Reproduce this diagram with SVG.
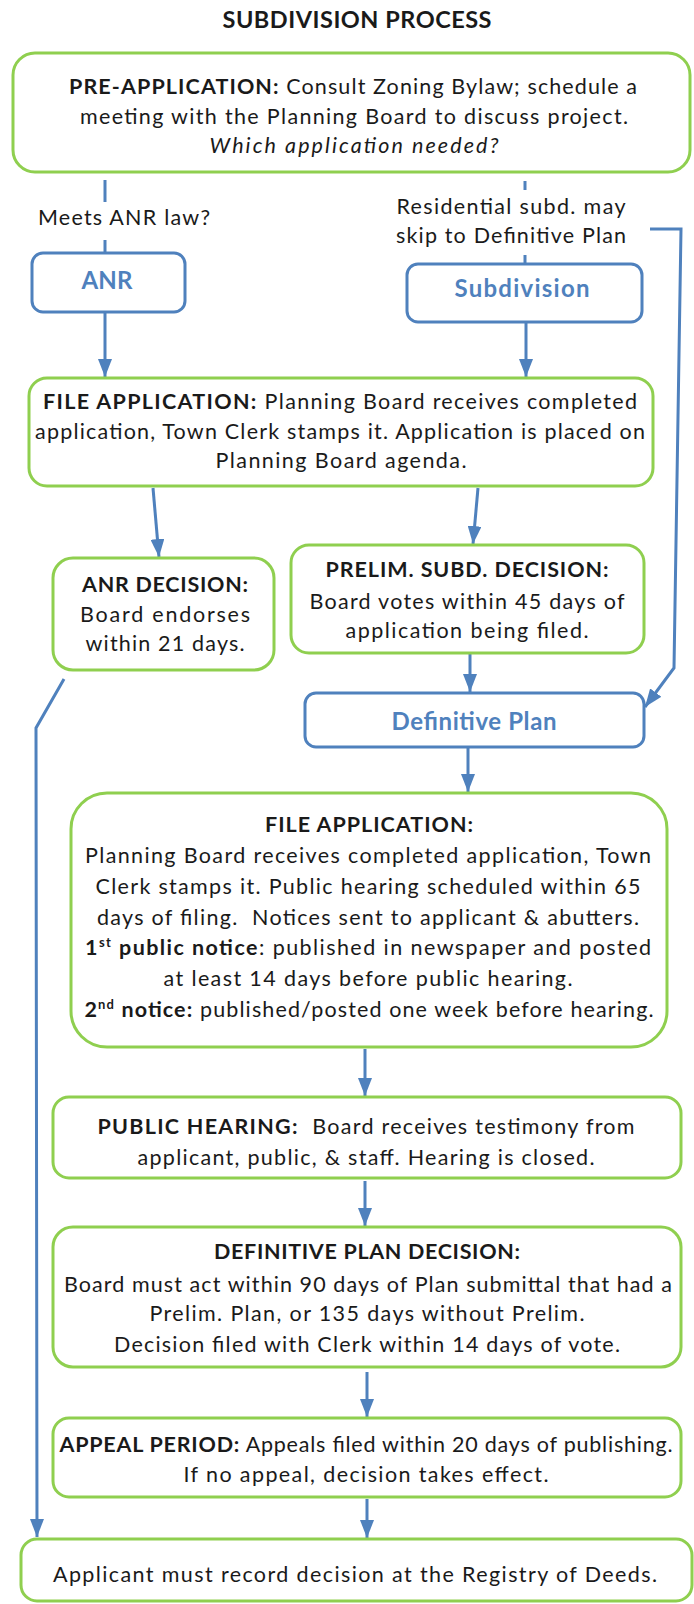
<svg xmlns="http://www.w3.org/2000/svg" width="694" height="1604" viewBox="0 0 694 1604">
<style>
.g{fill:#fff;stroke:#8fcf4f;stroke-width:3}
.bl{fill:#fff;stroke:#4f81bd;stroke-width:3}
.t{font-family:Lato,"Liberation Sans",sans-serif;font-size:21.5px;fill:#1a1a1a;text-anchor:middle}
.b{font-weight:bold}
.i{font-style:italic}
.bt{font-family:Lato,"Liberation Sans",sans-serif;font-size:24px;font-weight:bold;fill:#4f81bd;text-anchor:middle}
.c{fill:none;stroke:#4f81bd;stroke-width:3}
.sup{font-size:13px;font-weight:bold}
</style>
<defs>
<marker id="ah" markerUnits="userSpaceOnUse" markerWidth="18" markerHeight="14" viewBox="0 0 18 14" refX="18" refY="7" orient="auto">
<path d="M0,0 L18,7 L0,14 z" fill="#4f81bd"/>
</marker>
</defs>
<rect width="694" height="1604" fill="#fff"/>
<text id="title" class="t b" x="357" y="28" style="font-size:23.5px" textLength="269">SUBDIVISION PROCESS</text>

<g id="connectors">
<line class="c" x1="105" y1="180" x2="105" y2="202"/>
<line class="c" x1="105" y1="240" x2="105" y2="253"/>
<line class="c" x1="525" y1="181" x2="525" y2="190"/>
<line class="c" x1="525" y1="255" x2="525" y2="264"/>
<line class="c" x1="105" y1="312" x2="105" y2="377" marker-end="url(#ah)"/>
<line class="c" x1="526" y1="322" x2="526" y2="377" marker-end="url(#ah)"/>
<polyline class="c" points="650,229 681,229 674,668 645,707" marker-end="url(#ah)"/>
<line class="c" x1="153" y1="488" x2="159" y2="557" marker-end="url(#ah)"/>
<line class="c" x1="478" y1="488" x2="473" y2="544" marker-end="url(#ah)"/>
<line class="c" x1="470" y1="654" x2="470" y2="692" marker-end="url(#ah)"/>
<polyline class="c" points="64,679 36,728 37,1537" marker-end="url(#ah)"/>
<line class="c" x1="468" y1="748" x2="468" y2="792" marker-end="url(#ah)"/>
<line class="c" x1="365" y1="1049" x2="365" y2="1096" marker-end="url(#ah)"/>
<line class="c" x1="365" y1="1181" x2="365" y2="1226" marker-end="url(#ah)"/>
<line class="c" x1="367" y1="1372" x2="367" y2="1417" marker-end="url(#ah)"/>
<line class="c" x1="367" y1="1499" x2="367" y2="1538" marker-end="url(#ah)"/>
</g>

<g id="labels">
<text class="t" x="124" y="225" textLength="172">Meets ANR law?</text>
<text class="t" x="511" y="214" textLength="229">Residential subd. may</text>
<text class="t" x="511" y="243" textLength="230">skip to Definitive Plan</text>
</g>

<g id="preapp">
<rect class="g" x="13" y="53" width="677" height="119" rx="22"/>
<text class="t" x="353" y="94" textLength="568"><tspan class="b">PRE-APPLICATION:</tspan> Consult Zoning Bylaw; schedule a</text>
<text class="t" x="354" y="124" textLength="548">meeting with the Planning Board to discuss project.</text>
<text class="t i" x="354" y="153" textLength="289">Which application needed?</text>
</g>

<g id="anr">
<rect class="bl" x="32" y="253" width="153" height="59" rx="11"/>
<text class="bt" x="107" y="289" textLength="51">ANR</text>
</g>

<g id="subdivision">
<rect class="bl" x="407" y="264" width="235" height="58" rx="11"/>
<text class="bt" x="522" y="297" textLength="135">Subdivision</text>
</g>

<g id="fileapp1">
<rect class="g" x="29" y="378" width="624" height="108" rx="18"/>
<text class="t" x="340" y="409" textLength="594"><tspan class="b">FILE APPLICATION:</tspan> Planning Board receives completed</text>
<text class="t" x="340" y="439" textLength="610">application, Town Clerk stamps it. Application is placed on</text>
<text class="t" x="341" y="468" textLength="251">Planning Board agenda.</text>
</g>

<g id="anrdecision">
<rect class="g" x="53" y="558" width="221" height="112" rx="20"/>
<text class="t b" x="165" y="592" textLength="166">ANR DECISION:</text>
<text class="t" x="165" y="622" textLength="170">Board endorses</text>
<text class="t" x="165" y="651" textLength="159">within 21 days.</text>
</g>

<g id="prelim">
<rect class="g" x="291" y="545" width="353" height="108" rx="18"/>
<text class="t b" x="467" y="577" textLength="283">PRELIM. SUBD. DECISION:</text>
<text class="t" x="467" y="609" textLength="315">Board votes within 45 days of</text>
<text class="t" x="467" y="638" textLength="243">application being filed.</text>
</g>

<g id="definitive">
<rect class="bl" x="305" y="693" width="339" height="54" rx="11"/>
<text class="bt" x="474" y="730" textLength="165">Definitive Plan</text>
</g>

<g id="fileapp2">
<rect class="g" x="71" y="793" width="596" height="254" rx="36"/>
<text class="t b" x="369" y="832" textLength="208">FILE APPLICATION:</text>
<text class="t" x="368" y="863" textLength="566">Planning Board receives completed application, Town</text>
<text class="t" x="368" y="894" textLength="545">Clerk stamps it. Public hearing scheduled within 65</text>
<text class="t" x="368" y="925" textLength="542" xml:space="preserve">days of filing.  Notices sent to applicant &amp; abutters.</text>
<text class="t" x="368" y="955" textLength="566"><tspan class="b">1<tspan class="sup" dy="-8">st</tspan><tspan dy="8"> public notice</tspan></tspan>: published in newspaper and posted</text>
<text class="t" x="368" y="986" textLength="409">at least 14 days before public hearing.</text>
<text class="t" x="369" y="1017" textLength="569"><tspan class="b">2<tspan class="sup" dy="-8">nd</tspan><tspan dy="8"> notice:</tspan></tspan> published/posted one week before hearing.</text>
</g>

<g id="hearing">
<rect class="g" x="53" y="1097" width="628" height="81" rx="16"/>
<text class="t" x="366" y="1134" textLength="537" xml:space="preserve"><tspan class="b">PUBLIC HEARING:</tspan>  Board receives testimony from</text>
<text class="t" x="366" y="1165" textLength="457">applicant, public, &amp; staff. Hearing is closed.</text>
</g>

<g id="decision">
<rect class="g" x="53" y="1227" width="628" height="140" rx="20"/>
<text class="t b" x="367" y="1259" textLength="306">DEFINITIVE PLAN DECISION:</text>
<text class="t" x="368" y="1292" textLength="608">Board must act within 90 days of Plan submittal that had a</text>
<text class="t" x="367" y="1321" textLength="435">Prelim. Plan, or 135 days without Prelim.</text>
<text class="t" x="367" y="1352" textLength="506">Decision filed with Clerk within 14 days of vote.</text>
</g>

<g id="appeal">
<rect class="g" x="53" y="1418" width="628" height="79" rx="16"/>
<text class="t" x="366" y="1452" textLength="613"><tspan class="b">APPEAL PERIOD:</tspan> Appeals filed within 20 days of publishing.</text>
<text class="t" x="366" y="1482" textLength="365">If no appeal, decision takes effect.</text>
</g>

<g id="record">
<rect class="g" x="21" y="1539" width="671" height="62" rx="16"/>
<text class="t" x="355" y="1582" textLength="604">Applicant must record decision at the Registry of Deeds.</text>
</g>
</svg>
